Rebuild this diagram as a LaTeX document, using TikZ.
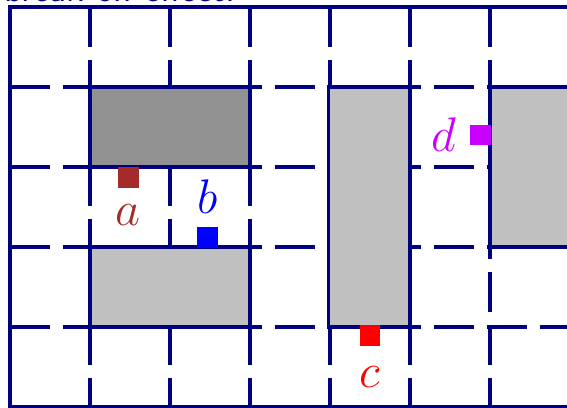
\documentclass[tikz,border=0pt]{standalone}
\usepackage{tikz}
\usetikzlibrary{positioning}
\definecolor{gridnavy} {RGB}{0,   0, 128}
\definecolor{darkblock}{RGB}{145, 145, 145}
\definecolor{lightblock}{RGB}{192, 192, 192}
\definecolor{ptbrown}  {RGB}{165,  42,  42}
\definecolor{ptblue}   {RGB}{0,    0, 255}
\definecolor{ptred}    {RGB}{255,  0,   0}
\definecolor{ptviolet} {RGB}{200,  0, 255}
\tikzset{
  gridline/.style={
    draw=gridnavy, line width=1.15pt,
    dash pattern=on 0.5cm off 0.1625cm
  },
  border/.style={draw=gridnavy, line width=1.15pt},
  block/.style={draw=gridnavy, line width=1.15pt, fill=#1},
  ptbox/.style={fill=#1, minimum size=0.26cm, inner sep=0pt},
  lbl/.style={text=#1, inner sep=0pt, font=\fontsize{16}{19}\selectfont},
}

\begin{document}
\begin{tikzpicture}

\useasboundingbox (-0.125,-0.0125) rectangle (6.9625,5.0875);
\clip (-0.125,-0.0125) rectangle (6.9625,5.0875);

% ── Title line (cut off at the top) ──────────────────────────────────────────
\node[anchor=base west, inner sep=0pt, text=gridnavy,
      font=\sffamily\fontsize{13}{15}\selectfont] (title) at (-0.08,5.07)
  {break on effect.};

% ── Grid ─────────────────────────────────────────────────────────────────────
\foreach \y in {1,...,4}
  \draw[gridline] (0,\y) -- (7,\y);
\foreach \x in {1,...,6}
  \draw[gridline] (\x,5) -- (\x,0);
\draw[border] (0,0) rectangle (7,5);

% ── Blocks ───────────────────────────────────────────────────────────────────
\draw[block=darkblock]  (1,3) rectangle (3,4);
\draw[block=lightblock] (1,1) rectangle (3,2);
\draw[block=lightblock] (3.98,1) rectangle (5,4);
\draw[block=lightblock] (6,2) rectangle (7.5,4);

% ── Points and labels ────────────────────────────────────────────────────────
\node[ptbox=ptbrown] (a) at (1.48,2.87) {};
\node[lbl=ptbrown, below=0.2cm of a] (la) {$a$};

\node[ptbox=ptblue] (b) at (2.47,2.12) {};
\node[lbl=ptblue, above=0.16cm of b] (lb) {$b$};

\node[ptbox=ptred] (c) at (4.5,0.89) {};
\node[lbl=ptred, below=0.24cm of c] (lc) {$c$};

\node[ptbox=ptviolet] (d) at (5.88,3.4) {};
\node[lbl=ptviolet, left=0.16cm of d] (ld) {$d$};

\end{tikzpicture}
\end{document}
